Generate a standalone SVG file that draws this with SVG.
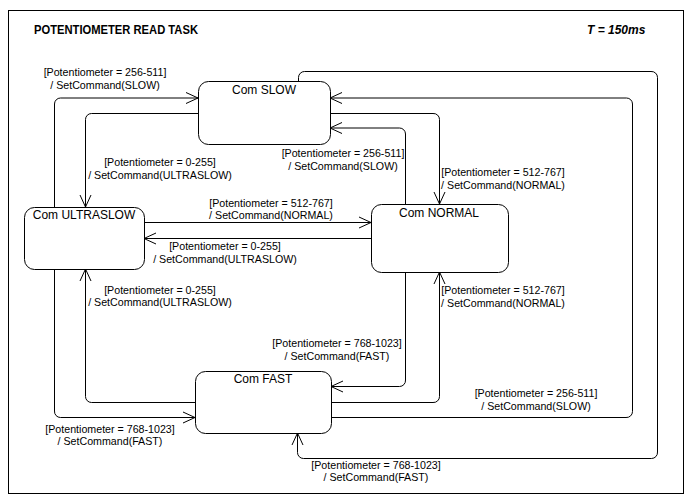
<svg xmlns="http://www.w3.org/2000/svg" width="700" height="503" viewBox="0 0 700 503">
<defs>
<style>
.st{fill:#fff;stroke:#000;stroke-width:1}
.nl{font-family:"Liberation Sans",Arial,sans-serif;font-size:12px;fill:#000;text-anchor:middle}
.lb{font-family:"Liberation Sans",Arial,sans-serif;font-size:10.67px;fill:#000;text-anchor:middle}
.cn{fill:none;stroke:#000;stroke-width:1;marker-end:url(#ah)}
</style>
<marker id="ah" markerWidth="14" markerHeight="13" refX="13" refY="6.5" orient="auto" markerUnits="userSpaceOnUse">
<path d="M1,1 L13,6.5 L1,12" fill="none" stroke="#000" stroke-width="1"/>
</marker>
</defs>
<rect width="700" height="503" fill="#fff"/>
<rect x="8.5" y="10.5" width="675" height="483" fill="none" stroke="#000"/>
<text x="34" y="34" font-family="Liberation Sans,Arial,sans-serif" font-size="12" font-weight="bold" textLength="164" lengthAdjust="spacingAndGlyphs">POTENTIOMETER READ TASK</text>
<text x="587" y="34" font-family="Liberation Sans,Arial,sans-serif" font-size="12" font-weight="bold" font-style="italic">T = 150ms</text>
<g id="connectors">
<path class="cn" d="M54.5,207 V104 A6,6 0 0 1 60.5,98 H198"/>
<path class="cn" d="M198,113.5 H91.5 A6,6 0 0 0 85.5,119.5 V207"/>
<path class="cn" d="M195,402.5 H91.5 A6,6 0 0 1 85.5,396.5 V269"/>
<path class="cn" d="M54.5,269 V411 A6,6 0 0 0 60.5,417.5 H195"/>
<path class="cn" d="M144,222.5 H371"/>
<path class="cn" d="M371,238.5 H144"/>
<path class="cn" d="M405.5,204 V134 A6,6 0 0 0 399.5,128 H330"/>
<path class="cn" d="M330,113.5 H433 A6,6 0 0 1 439.5,119.5 V204"/>
<path class="cn" d="M331,417.5 H626 A6,6 0 0 0 632.5,411.5 V104 A6,6 0 0 0 626.5,98 H330"/>
<path class="cn" d="M298.5,81 V77.5 A6,6 0 0 1 304.5,71.5 H651 A6,6 0 0 1 657.5,77.5 V452 A6,6 0 0 1 651.5,458.5 H303.5 A6,6 0 0 1 297.5,452.5 V433"/>
<path class="cn" d="M405.5,272 V380 A6,6 0 0 1 399.5,386.5 H331"/>
<path class="cn" d="M331,402.5 H433 A6,6 0 0 0 439.5,396.5 V272"/>
<text class="lb" x="105" y="76">[Potentiometer = 256-511]</text>
<text class="lb" x="105" y="88.5">/ SetCommand(SLOW)</text>
<text class="lb" x="160" y="166">[Potentiometer = 0-255]</text>
<text class="lb" x="160" y="178.5">/ SetCommand(ULTRASLOW)</text>
<text class="lb" x="271" y="206.5">[Potentiometer = 512-767]</text>
<text class="lb" x="271" y="219">/ SetCommand(NORMAL)</text>
<text class="lb" x="225" y="250">[Potentiometer = 0-255]</text>
<text class="lb" x="225" y="262.5">/ SetCommand(ULTRASLOW)</text>
<text class="lb" x="160" y="293.5">[Potentiometer = 0-255]</text>
<text class="lb" x="160" y="306">/ SetCommand(ULTRASLOW)</text>
<text class="lb" x="343" y="157">[Potentiometer = 256-511]</text>
<text class="lb" x="343" y="169.5">/ SetCommand(SLOW)</text>
<text class="lb" x="503" y="176">[Potentiometer = 512-767]</text>
<text class="lb" x="503" y="188.5">/ SetCommand(NORMAL)</text>
<text class="lb" x="503" y="293.5">[Potentiometer = 512-767]</text>
<text class="lb" x="503" y="306.5">/ SetCommand(NORMAL)</text>
<text class="lb" x="337" y="347">[Potentiometer = 768-1023]</text>
<text class="lb" x="337" y="359.5">/ SetCommand(FAST)</text>
<text class="lb" x="110" y="432.5">[Potentiometer = 768-1023]</text>
<text class="lb" x="110" y="445">/ SetCommand(FAST)</text>
<text class="lb" x="536" y="397">[Potentiometer = 256-511]</text>
<text class="lb" x="536" y="409.5">/ SetCommand(SLOW)</text>
<text class="lb" x="376" y="468.5">[Potentiometer = 768-1023]</text>
<text class="lb" x="376" y="481">/ SetCommand(FAST)</text>
</g>
<g id="slow">
<rect class="st" x="198.5" y="81.5" width="132" height="63" rx="10"/>
<text class="nl" x="264" y="94">Com SLOW</text>
</g>
<g id="ultraslow">
<rect class="st" x="24.5" y="207.5" width="120" height="62" rx="10"/>
<text class="nl" x="84" y="219">Com ULTRASLOW</text>
</g>
<g id="normal">
<rect class="st" x="371.5" y="204.5" width="137" height="68" rx="10"/>
<text class="nl" x="439" y="217">Com NORMAL</text>
</g>
<g id="fast">
<rect class="st" x="195.5" y="371.5" width="136" height="62" rx="10"/>
<text class="nl" x="263" y="383">Com FAST</text>
</g>
</svg>
